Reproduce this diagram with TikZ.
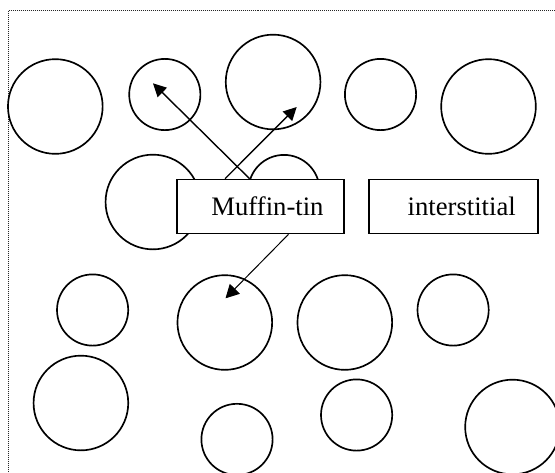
\documentclass[tikz,border=0pt]{standalone}
\usepackage{fontspec}
\setmainfont{Liberation Serif}
\usetikzlibrary{arrows.meta}
\begin{document}
\begin{tikzpicture}[x=0.75pt,y=-0.75pt,
  ball/.style={circle,draw,line width=1.25pt,inner sep=0pt,outer sep=0pt},
  smallball/.style={ball,minimum size=53.4pt},
  bigball/.style={ball,minimum size=71pt},
  region/.style={draw,fill=white,line width=1.3pt,minimum width=125.4pt,minimum height=40.4pt,
    inner sep=0pt,font=\fontsize{20}{24}\selectfont},
  thickarrow/.style={line width=1.05pt,-{Triangle[length=9.8pt,width=9.8pt]}},
  thinarrow/.style={line width=0.75pt,-{Triangle[length=10pt,width=10.5pt]}},
  frame/.style={draw=black!85,line width=0.8pt,dash pattern=on 0.75pt off 0.75pt}]
\useasboundingbox (0,0) rectangle (555,472);
\clip (0,0) rectangle (555,472);
\draw[frame] (8.5,10.5) rectangle (620,540);
% circles
\node[bigball]   (c1)  at (55.3,106.5) {};
\node[smallball] (c2)  at (164.8,94.5) {};
\node[bigball]   (c3)  at (273.1,82) {};
\node[smallball] (c4)  at (380.5,94.5) {};
\node[bigball]   (c5)  at (488.5,106.5) {};
\node[bigball]   (c6)  at (152.9,202) {};
\node[smallball] (c7)  at (284,190.5) {};
\node[smallball] (c8)  at (92.6,310) {};
\node[bigball]   (c9)  at (224.8,322.5) {};
\node[bigball]   (c10) at (344.8,322.5) {};
\node[smallball] (c11) at (453.1,310) {};
\node[bigball]   (c12) at (80.9,403) {};
\node[smallball] (c13) at (237,439.4) {};
\node[smallball] (c14) at (356.6,415) {};
\node[bigball]   (c15) at (512.5,427) {};
% boxes
\node[region] (mt) at (260.5,206.5) {\hspace*{10.5pt}Muffin-tin};
\node[region,minimum width=126.6pt] (it) at (453.7,206.5) {\hspace*{12pt}interstitial};
% arrow tips
\coordinate (ta) at (153,83.3);
\coordinate (tb) at (296.7,107);
\coordinate (tc) at (225.5,298.3);
\draw[thickarrow] ([xshift=-8.2pt]mt.north) -- (ta);
\draw[thickarrow] ([xshift=-26.6pt]mt.north) -- (tb);
\draw[thinarrow] ([xshift=21pt]mt.south) -- (tc);
\end{tikzpicture}
\end{document}
